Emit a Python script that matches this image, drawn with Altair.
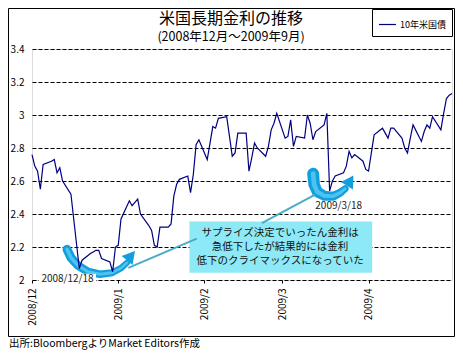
import altair as alt
import pandas as pd

FONT = "Noto Sans CJK JP"
BASE = pd.Timestamp("2008-12-01")

# ---- data: 10-year US Treasury yield (%) ----
dates = [
    "2008-12-01", "2008-12-02", "2008-12-03", "2008-12-04", "2008-12-05",
    "2008-12-08", "2008-12-09", "2008-12-10", "2008-12-11", "2008-12-12",
    "2008-12-15", "2008-12-16", "2008-12-17", "2008-12-18", "2008-12-19",
    "2008-12-22", "2008-12-23", "2008-12-24", "2008-12-25", "2008-12-26",
    "2008-12-29", "2008-12-30", "2008-12-31", "2009-01-01", "2009-01-02",
    "2009-01-05", "2009-01-06", "2009-01-07", "2009-01-08", "2009-01-09",
    "2009-01-12", "2009-01-13", "2009-01-14", "2009-01-15", "2009-01-16",
    "2009-01-19", "2009-01-20", "2009-01-21", "2009-01-22", "2009-01-23",
    "2009-01-26", "2009-01-27", "2009-01-28", "2009-01-29", "2009-01-30",
    "2009-02-02", "2009-02-03", "2009-02-04", "2009-02-05", "2009-02-06",
    "2009-02-09", "2009-02-10", "2009-02-11", "2009-02-12", "2009-02-13",
    "2009-02-16", "2009-02-17", "2009-02-18", "2009-02-19", "2009-02-20",
    "2009-02-23", "2009-02-24", "2009-02-25", "2009-02-26", "2009-02-27",
    "2009-03-02", "2009-03-03", "2009-03-04", "2009-03-05", "2009-03-06",
    "2009-03-09", "2009-03-10", "2009-03-11", "2009-03-12", "2009-03-13",
    "2009-03-16", "2009-03-17", "2009-03-18", "2009-03-19", "2009-03-20",
    "2009-03-23", "2009-03-24", "2009-03-25", "2009-03-26", "2009-03-27",
    "2009-03-30", "2009-03-31", "2009-04-01", "2009-04-02", "2009-04-03",
    "2009-04-06", "2009-04-07", "2009-04-08", "2009-04-09", "2009-04-10",
    "2009-04-13", "2009-04-14", "2009-04-15", "2009-04-16", "2009-04-17",
    "2009-04-20", "2009-04-21", "2009-04-22", "2009-04-23", "2009-04-24",
    "2009-04-27", "2009-04-28", "2009-04-29", "2009-04-30", "2009-05-01",
]
yields = [
    2.76, 2.69, 2.66, 2.55, 2.70,
    2.72, 2.73, 2.65, 2.68, 2.60,
    2.52, 2.37, 2.22, 2.07, 2.12,
    2.16, 2.17, 2.18, 2.18, 2.13,
    2.11, 2.05, 2.20, 2.21, 2.37,
    2.48, 2.45, 2.47, 2.49, 2.40,
    2.33, 2.30, 2.21, 2.20, 2.32,
    2.32, 2.34, 2.51, 2.58, 2.61,
    2.63, 2.53, 2.64, 2.82, 2.85,
    2.73, 2.83, 2.93, 2.92, 2.98,
    2.99, 2.87, 2.75, 2.77, 2.89,
    2.89, 2.66, 2.74, 2.83, 2.80,
    2.75, 2.81, 2.91, 2.95, 3.01,
    2.86, 2.87, 2.97, 2.81, 2.87,
    2.86, 3.00, 2.95, 2.85, 2.90,
    2.94, 3.01, 2.54, 2.60, 2.63,
    2.65, 2.69, 2.78, 2.74, 2.76,
    2.72, 2.67, 2.66, 2.77, 2.88,
    2.92, 2.89, 2.86, 2.92, 2.92,
    2.86, 2.80, 2.77, 2.86, 2.94,
    2.84, 2.90, 2.94, 2.92, 2.99,
    2.91, 3.01, 3.10, 3.12, 3.13,
]
series_name = "10年米国債"

y_ticks = [2.0, 2.2, 2.4, 2.6, 2.8, 3.0, 3.2, 3.4]
x_tick_months = [(2008, 12), (2009, 1), (2009, 2), (2009, 3), (2009, 4)]
x_domain = [(2008, 12, 1), (2009, 5, 1)]

# ---- text ----
title_text = "米国長期金利の推移"
subtitle_text = "(2008年12月～2009年9月)"
footer_text = "出所:BloombergよりMarket Editors作成"
callout_lines = ["サプライズ決定でいったん金利は", "急低下したが結果的には金利", "低下のクライマックスになっていた"]
callout_first_line_val = 2.287
callout_center_day = 89.2
callout_box_days = [56.6, 122.3]
callout_box_vals = [2.044, 2.355]

label_texts = ["2008/12/18", "2009/3/18"]
label_days = [12.77, 110.25]
label_vals = [2.004, 2.450]
label_bg_days = [2.5, 23.0]
label_bg_vals = [1.972, 2.038]

# curved arrows (days since 2008-12-01, yield units), width in px
arrow_ids = ["a"] * 8 + ["b"] * 7
arrow_days = [12.59, 14.03, 16.55, 20.14, 24.46, 28.78, 32.01, 34.17,
              101.08, 101.44, 102.52, 105.04, 108.27, 110.79, 112.59]
arrow_vals = [2.186, 2.135, 2.087, 2.050, 2.035, 2.044, 2.072, 2.105,
              2.644, 2.578, 2.535, 2.511, 2.508, 2.529, 2.553]
arrow_widths = [9, 9, 8.5, 8, 7.5, 7, 6.5, 6,
                12, 11.5, 11, 10, 9, 8, 7]
head_days = [35.61, 114.39]
head_vals = [2.147, 2.602]
head_angles = [40, 32]

conn_ids = ["c1", "c1", "c2", "c2"]
conn_days = [34.64, 59.24, 82.63, 101.8]
conn_vals = [2.073, 2.251, 2.345, 2.517]


def ts(d):
    return (BASE + pd.to_timedelta(d, unit="D")).strftime("%Y-%m-%dT%H:%M:%SZ")


def dt(y, m, d=1):
    return alt.DateTime(year=y, month=m, date=d, utc=True)


line_df = pd.DataFrame({"date": dates, "value": yields, "series": series_name})

xscale = alt.Scale(type="utc", domain=[dt(*x_domain[0]), dt(*x_domain[1])], nice=False)
yscale = alt.Scale(domain=[2.0, 3.4], nice=False, zero=False)

x_axis = alt.Axis(
    values=[dt(y, m) for y, m in x_tick_months], format="%Y/%-m", labelAngle=270,
    grid=False, domain=False, ticks=True, tickSize=3, tickColor="black",
    labelPadding=5, labelFontSize=10, labelFont=FONT, labelColor="black", title=None,
)
y_axis = alt.Axis(
    values=y_ticks, format="~g", grid=True, gridDash=[4, 2], gridColor="black",
    gridWidth=1, gridOpacity=1, domain=False, ticks=False, labelPadding=8,
    labelFontSize=10, labelFont=FONT, labelColor="black", title=None,
)

X = lambda f: alt.X(f, type="temporal", scale=xscale, axis=x_axis)
Y = lambda f: alt.Y(f, type="quantitative", scale=yscale, axis=y_axis)

# outer frame
frame = alt.Chart(pd.DataFrame({"k": [0]})).mark_rect(
    fill="white", fillOpacity=0, stroke="black", strokeWidth=1
).encode(
    x=alt.value(-23.5), x2=alt.value(422.5), y=alt.value(-40.5), y2=alt.value(287.5)
)

box_df = pd.DataFrame({
    "d1": [ts(callout_box_days[0])], "d2": [ts(callout_box_days[1])],
    "v1": [callout_box_vals[0]], "v2": [callout_box_vals[1]],
})
box = alt.Chart(box_df).mark_rect(fill="#8EE9F6").encode(
    x=X("d1"), x2="d2", y=Y("v1"), y2="v2"
)

arrow_df = pd.DataFrame({
    "id": arrow_ids, "t": [ts(d) for d in arrow_days], "v": arrow_vals,
    "w": arrow_widths, "i": list(range(len(arrow_ids))),
})
arrow_df["w2"] = arrow_df["w"] * 0.4
arrows = alt.Chart(arrow_df).mark_trail(color="#139FDD").encode(
    x=X("t"), y=Y("v"), detail="id:N", order="i:Q",
    size=alt.Size("w:Q", scale=None, legend=None),
)
arrow_hi = alt.Chart(arrow_df).mark_trail(color="#4CC3F0").encode(
    x=X("t"), y=Y("v"), detail="id:N", order="i:Q",
    size=alt.Size("w2:Q", scale=None, legend=None),
)

head_df = pd.DataFrame({"t": [ts(d) for d in head_days], "v": head_vals, "a": head_angles})
heads = alt.Chart(head_df).mark_point(
    shape="triangle-up", filled=True, color="#139FDD", opacity=1, size=200
).encode(x=X("t"), y=Y("v"), angle=alt.Angle("a:Q", scale=None))

conn_df = pd.DataFrame({"id": conn_ids, "t": [ts(d) for d in conn_days], "v": conn_vals})
conns = alt.Chart(conn_df).mark_line(color="#4AABC9", strokeWidth=2).encode(
    x=X("t"), y=Y("v"), detail="id:N"
)

bg_df = pd.DataFrame({
    "d1": [ts(label_bg_days[0])], "d2": [ts(label_bg_days[1])],
    "v1": [label_bg_vals[0]], "v2": [label_bg_vals[1]],
})
label_bg = alt.Chart(bg_df).mark_rect(fill="white").encode(
    x=X("d1"), x2="d2", y=Y("v1"), y2="v2"
)

data_line = alt.Chart(line_df).mark_line(strokeWidth=1.2).encode(
    x=X("date"), y=Y("value"),
    color=alt.Color(
        "series:N", scale=alt.Scale(range=["#000080"]),
        legend=alt.Legend(
            title=None, orient="none", legendX=340, legendY=-40,
            strokeColor="black", fillColor="white", padding=6,
            symbolType="stroke", symbolSize=289, symbolStrokeWidth=1.2,
            labelFontSize=9, labelFont=FONT, labelColor="black", labelOffset=3,
        ),
    ),
)

callout_df = pd.DataFrame({
    "t": [ts(callout_center_day)], "v": [callout_first_line_val], "s": ["\n".join(callout_lines)],
})
callout_text = alt.Chart(callout_df).mark_text(
    font=FONT, fontSize=10.5, color="#111111", align="center", baseline="middle",
    lineBreak="\n", lineHeight=14.3,
).encode(x=X("t"), y=Y("v"), text="s:N")

lab_df = pd.DataFrame({"t": [ts(d) for d in label_days], "v": label_vals, "s": label_texts})
labels = alt.Chart(lab_df).mark_text(
    font=FONT, fontSize=10, color="#222222", align="center", baseline="middle"
).encode(x=X("t"), y=Y("v"), text="s:N")

title = alt.Chart(pd.DataFrame({"s": [title_text]})).mark_text(
    font=FONT, fontSize=16, color="black", align="center", baseline="middle"
).encode(text="s:N", x=alt.value(199), y=alt.value(-30))

subtitle = alt.Chart(pd.DataFrame({"s": [subtitle_text]})).mark_text(
    font=FONT, fontSize=12.5, color="black", align="center", baseline="middle"
).encode(text="s:N", x=alt.value(199), y=alt.value(-12.5))

footer = alt.Chart(pd.DataFrame({"s": [footer_text]})).mark_text(
    font=FONT, fontSize=10.5, color="black", align="left", baseline="alphabetic"
).encode(text="s:N", x=alt.value(-23), y=alt.value(298))

chart = alt.layer(
    frame, box, arrows, arrow_hi, heads, conns, label_bg, data_line,
    callout_text, labels, title, subtitle, footer,
).properties(
    width=420, height=231,
    autosize=alt.AutoSizeParams(type="none"),
    padding={"left": 24, "top": 41, "right": 3, "bottom": 71},
    background="white",
).configure_view(
    stroke="black", strokeWidth=1, fill="white"
).configure(
    font=FONT
)

chart.save("out.html", embed_options={"renderer": "svg", "actions": False})
